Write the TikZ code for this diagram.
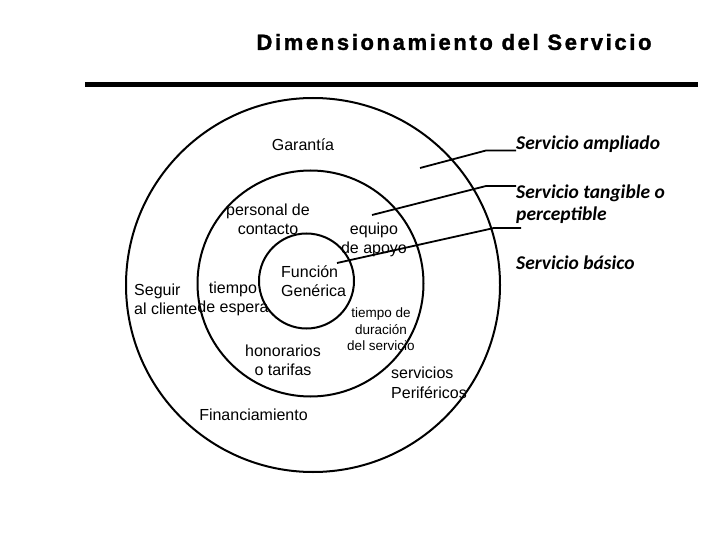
\documentclass[tikz,border=0pt]{standalone}
\usepackage{fontspec}
\setmainfont{Liberation Sans}
\newfontfamily\calib{Carlito}
\newfontfamily\titlefont[LetterSpace=12,FakeBold=1.5]{Liberation Sans Bold}
\begin{document}
\begin{tikzpicture}[x=1pt,y=-1pt,
  ring/.style={circle,draw,line width=2pt,inner sep=0pt},
  lbl/.style={inner sep=0pt,align=center,font=\fontsize{16}{19}\selectfont},
  small/.style={inner sep=0pt,align=center,font=\fontsize{13.5}{16.5}\selectfont},
  side/.style={inner sep=0pt,anchor=west,align=left,font=\calib\bfseries\itshape\fontsize{19.5}{22}\selectfont},
  conn/.style={line width=1.8pt}]
\useasboundingbox (0,0) rectangle (720,540);
% title and bar
\node[inner sep=0pt,font=\titlefont\fontsize{22}{26}\selectfont] (title) at (454,42) {Dimensionamiento del Servicio};
\fill (85,82) rectangle (698,87.5);
% rings
\node[ring,minimum size=374pt] (outer) at (313,285) {};
\node[ring,minimum size=226pt] (middle) at (310.5,283.5) {};
\node[ring,minimum size=95pt] (inner) at (306.5,281) {};
% labels
\node[lbl] (gar) at (303,145) {Garantía};
\node[lbl] (pers) at (268,219) {personal de\\contacto};
\node[lbl] (equipo) at (374,240) {equipo\\de apoyo};
\node[lbl,anchor=west,align=left] (func) at (281,281) {Función\\Genérica};
\node[lbl,anchor=west,align=left] (seguir) at (134,299) {Seguir\\al cliente};
\node[lbl] (tiempo) at (233,299) {tiempo\\de espera};
\node[lbl] (hon) at (283,360) {honorarios\\o tarifas};
\node[small] (dur) at (381,329.5) {tiempo de\\duración\\del servicio};
\node[lbl,anchor=west,align=left,font=\fontsize{16}{20}\selectfont] (perif) at (391,383) {servicios\\Periféricos};
\node[lbl] (fin) at (253.5,415) {Financiamiento};
% side labels
\node[side] (ampl) at (516,144) {Servicio ampliado};
\node[side] (tang) at (516,204) {Servicio tangible o\\perceptible};
\node[side] (bas) at (516,263) {Servicio básico};
% connectors
\coordinate (a0) at (420,168);
\coordinate (a1) at (486,150.5);
\coordinate (t0) at (372,215);
\coordinate (t1) at (486,186);
\coordinate (b0) at (337,263);
\coordinate (b1) at (494,228);
\coordinate (b2) at (521,228);
\draw[conn] (a0) -- (a1) -- (ampl.west |- a1);
\draw[conn] (t0) -- (t1) -- (tang.west |- t1);
\draw[conn] (b0) -- (b1) -- (b2);
\end{tikzpicture}
\end{document}
